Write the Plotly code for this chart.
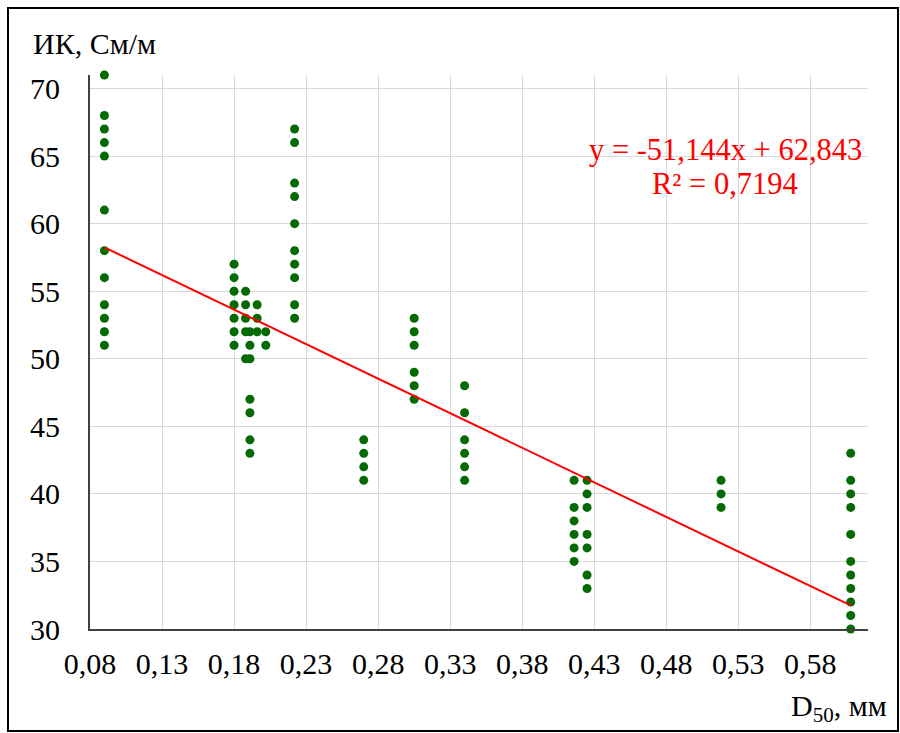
import plotly.graph_objects as go

# --- data ---
d50_mm = [
    0.09, 0.09, 0.09, 0.09, 0.09, 0.09, 0.09, 0.09, 0.09, 0.09, 0.09, 0.09,
    0.18, 0.18, 0.18, 0.18, 0.18, 0.18, 0.18,
    0.188, 0.188, 0.188, 0.188, 0.188,
    0.191, 0.191, 0.191, 0.191, 0.191, 0.191, 0.191,
    0.196, 0.196, 0.196,
    0.202, 0.202,
    0.222, 0.222, 0.222, 0.222, 0.222, 0.222, 0.222, 0.222, 0.222, 0.222,
    0.27, 0.27, 0.27, 0.27,
    0.305, 0.305, 0.305, 0.305, 0.305, 0.305,
    0.34, 0.34, 0.34, 0.34, 0.34, 0.34,
    0.416, 0.416, 0.416, 0.416, 0.416, 0.416,
    0.425, 0.425, 0.425, 0.425, 0.425, 0.425, 0.425,
    0.518, 0.518, 0.518,
    0.608, 0.608, 0.608, 0.608, 0.608, 0.608, 0.608, 0.608, 0.608, 0.608, 0.608,
]
ik_sm_m = [
    71, 68, 67, 66, 65, 61, 58, 56, 54, 53, 52, 51,
    57, 56, 55, 54, 53, 52, 51,
    55, 54, 53, 52, 50,
    52, 51, 50, 47, 46, 44, 43,
    54, 53, 52,
    52, 51,
    67, 66, 63, 62, 60, 58, 57, 56, 54, 53,
    44, 43, 42, 41,
    53, 52, 51, 49, 48, 47,
    48, 46, 44, 43, 42, 41,
    41, 39, 38, 37, 36, 35,
    41, 40, 39, 37, 36, 34, 33,
    41, 40, 39,
    43, 41, 40, 39, 37, 35, 34, 33, 32, 31, 30,
]
trend_slope = -51.144
trend_intercept = 62.843
r_squared = 0.7194

x_ticks = [0.08, 0.13, 0.18, 0.23, 0.28, 0.33, 0.38, 0.43, 0.48, 0.53, 0.58]
y_ticks = [30, 35, 40, 45, 50, 55, 60, 65, 70]

FONT = "Liberation Serif"
FS = 30

trend_x = [min(d50_mm), max(d50_mm)]
trend_y = [trend_slope * v + trend_intercept for v in trend_x]

fig = go.Figure()
fig.add_trace(go.Scatter(
    x=d50_mm, y=ik_sm_m, mode="markers",
    marker=dict(color="#046a04", size=9, line=dict(width=0)),
    showlegend=False, cliponaxis=False,
))
fig.add_trace(go.Scatter(
    x=trend_x, y=trend_y, mode="lines",
    line=dict(color="#ff0000", width=2),
    showlegend=False,
))

def fmt(v):
    return f"{v}".replace(".", ",")

L, R, T, B = 90, 32, 75, 104
W, H = 900, 733
pw = W - L - R
ph = H - T - B

def px(xp):
    return (xp - L) / pw

def py(yp):
    return (H - B - yp) / ph

fig.update_layout(
    width=W, height=H,
    margin=dict(l=L, r=R, t=T, b=B),
    paper_bgcolor="white", plot_bgcolor="white",
    separators=", ",
    font=dict(family=FONT, size=FS, color="#000000"),
    xaxis=dict(
        range=[0.08, 0.62], tickmode="array", tickvals=x_ticks,
        ticktext=[f"{v:.2f}".replace(".", ",") for v in x_ticks],
        showgrid=True, gridcolor="#d9d9d9", gridwidth=1,
        showline=True, linecolor="#404040", linewidth=2,
        zeroline=False, ticks="", ticklabelstandoff=7,
        tickfont=dict(family=FONT, size=FS, color="#000000"),
    ),
    yaxis=dict(
        range=[30, 71], tickmode="array", tickvals=y_ticks,
        showgrid=True, gridcolor="#d9d9d9", gridwidth=1,
        showline=True, linecolor="#404040", linewidth=2,
        zeroline=False, ticks="", ticklabelstandoff=22,
        tickfont=dict(family=FONT, size=FS, color="#000000"),
    ),
    shapes=[dict(
        type="rect", xref="paper", yref="paper",
        x0=px(8), x1=px(898), y0=py(731), y1=py(8),
        line=dict(color="#000000", width=2), fillcolor="rgba(0,0,0,0)",
        layer="below",
    )],
    annotations=[
        dict(text="ИК, См/м", xref="paper", yref="paper",
             x=px(31), y=py(43), xanchor="left", yanchor="middle",
             showarrow=False, font=dict(family=FONT, size=FS, color="#000000")),
        dict(text="D<sub>50</sub>, мм", xref="paper", yref="paper",
             x=px(889), y=py(708), xanchor="right", yanchor="middle",
             showarrow=False, font=dict(family=FONT, size=FS, color="#000000")),
        dict(text=f"y = {fmt(trend_slope)}x + {fmt(trend_intercept)}",
             xref="paper", yref="paper", x=px(725), y=py(150),
             xanchor="center", yanchor="middle", showarrow=False,
             font=dict(family=FONT, size=30.5, color="#ff0000")),
        dict(text=f"R² = {fmt(r_squared)}",
             xref="paper", yref="paper", x=px(725), y=py(184),
             xanchor="center", yanchor="middle", showarrow=False,
             font=dict(family=FONT, size=30.5, color="#ff0000")),
    ],
)

fig.write_html("out.html", config={"displayModeBar": False},
               post_script="document.body.style.margin='0';")
